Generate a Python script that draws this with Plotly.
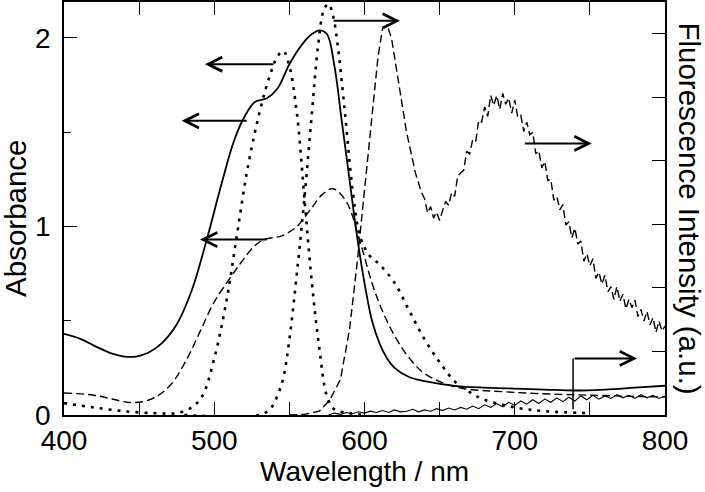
import plotly.graph_objects as go

# absorbance (left axis)
abs_solid_wl = [400, 412, 422, 432, 440, 448, 456, 465, 475, 485, 495, 505, 513, 520, 527, 535, 542, 550,
                558, 565, 570, 575, 580, 585, 590, 595, 600, 605, 610, 615, 620, 630, 640, 660,
                680, 700, 720, 740, 760, 780, 800]
abs_solid = [0.43, 0.40, 0.36, 0.325, 0.31, 0.31, 0.33, 0.38, 0.48, 0.66, 0.93, 1.23, 1.45, 1.58, 1.66, 1.68, 1.73, 1.86,
             1.96, 2.02, 2.04, 2.02, 1.85, 1.55, 1.25, 0.95, 0.70, 0.50, 0.38, 0.30, 0.25, 0.20, 0.18, 0.155,
             0.145, 0.14, 0.135, 0.13, 0.135, 0.145, 0.155]

abs_dot_wl = [400, 420, 440, 460, 475, 485, 492, 500, 508, 515, 522, 530, 537, 542, 546, 550,
              555, 560, 565, 570, 575, 580, 590, 600]
abs_dot = [0.063, 0.04, 0.02, 0.01, 0.01, 0.04, 0.10, 0.30, 0.60, 0.95, 1.30, 1.60, 1.80, 1.90, 1.93, 1.85,
           1.60, 1.15, 0.70, 0.35, 0.10, 0.03, 0.01, 0.0]

abs_dash_wl = [400, 420, 432, 442, 452, 462, 472, 482, 491, 500, 510, 518, 526, 533, 545, 555, 565, 572, 579,
               588, 597, 605, 612, 620, 630, 640, 660, 700, 750, 800]
abs_dash = [0.117, 0.105, 0.085, 0.068, 0.07, 0.10, 0.17, 0.30, 0.45, 0.60, 0.72, 0.81, 0.89, 0.93, 0.95, 1.00,
            1.10, 1.17, 1.20, 1.13, 0.92, 0.70, 0.55, 0.42, 0.30, 0.22, 0.15, 0.12, 0.105, 0.095]

# fluorescence (right axis, a.u.)
fl_dot_wl = [480, 530, 537, 542, 546, 550, 555, 560, 565, 569, 573, 576, 579, 582, 587, 592,
             597, 603, 610, 620, 630, 640, 650, 660, 670, 680, 700, 720, 750]
fl_dot = [0, 0, 0.09, 0.30, 0.59, 1.19, 2.23, 3.41, 4.75, 5.79, 6.38, 6.47, 6.29, 5.85, 4.75, 3.56,
          2.82, 2.52, 2.37, 2.08, 1.63, 1.19, 0.83, 0.53, 0.36, 0.24, 0.12, 0.06, 0.03]

fl_dash_wl = [550, 560, 570, 577, 584, 590, 595, 600, 605, 609, 612, 615, 618, 622, 628, 634, 638] + \
    list(range(640, 801, 2))
fl_dash = [0, 0.01, 0.06, 0.24, 0.56, 1.34, 2.37, 3.56, 4.75, 5.64, 6.08, 6.14, 5.93, 5.34, 4.45, 3.80, 3.50,
           3.40, 3.18, 3.28, 3.10, 3.19, 3.06, 3.22, 3.36, 3.30, 3.50, 3.44, 3.76, 3.81, 3.85, 4.15, 4.11,
           4.33, 4.30, 4.64, 4.61, 4.85, 4.70, 5.03, 4.87, 5.03, 4.81, 5.06, 4.89, 4.99, 4.75, 4.96, 4.69,
           4.72, 4.46, 4.61, 4.41, 4.45, 4.11, 4.16, 3.89, 3.99, 3.69, 3.71, 3.38, 3.44, 3.23, 3.31, 2.99,
           3.04, 2.79, 2.94, 2.69, 2.74, 2.42, 2.54, 2.35, 2.46, 2.15, 2.25, 2.06, 2.20, 1.94, 2.02, 1.82,
           2.02, 1.79, 1.90, 1.67, 1.82, 1.69, 1.81, 1.55, 1.66, 1.48, 1.63, 1.42, 1.53, 1.30, 1.48, 1.32, 1.40]

fl_solid_wl = list(range(576, 801, 4))
fl_solid = [0.00, 0.03, 0.01, 0.04, 0.02, 0.05, 0.03, 0.06, 0.04, 0.07, 0.04, 0.08, 0.05, 0.06, 0.09, 0.05,
            0.08, 0.06, 0.10, 0.07, 0.11, 0.08, 0.12, 0.09, 0.14, 0.10, 0.16, 0.12, 0.18, 0.13, 0.20, 0.15,
            0.22, 0.17, 0.24, 0.18, 0.25, 0.20, 0.27, 0.21, 0.28, 0.22, 0.30, 0.24, 0.31, 0.25, 0.30, 0.26,
            0.32, 0.27, 0.31, 0.26, 0.32, 0.27, 0.31, 0.26, 0.30]

# arrows: (tail wl, head wl, level on left axis)
arrows = [
    (540.4, 493.8, 1.86),
    (522.6, 478.3, 1.56),
    (535.8, 490.5, 0.93),
    (578.4, 623.6, 2.09),
    (705.7, 751.2, 1.44),
    (738.8, 781.4, 0.30),
]

BLACK = "black"
FONT = "Liberation Sans, Arial, sans-serif"

fig = go.Figure()
fig.add_trace(go.Scatter(x=abs_solid_wl, y=abs_solid, mode="lines",
                         line=dict(color=BLACK, width=1.8, shape="spline")))
fig.add_trace(go.Scatter(x=abs_dot_wl, y=abs_dot, mode="lines",
                         line=dict(color=BLACK, width=2.6, dash="3px,6px", shape="spline")))
fig.add_trace(go.Scatter(x=abs_dash_wl, y=abs_dash, mode="lines",
                         line=dict(color=BLACK, width=1.4, dash="8px,4px", shape="spline")))
fig.add_trace(go.Scatter(x=fl_dot_wl, y=fl_dot, mode="lines", yaxis="y2",
                         line=dict(color=BLACK, width=2.6, dash="3px,6px", shape="spline")))
fig.add_trace(go.Scatter(x=fl_dash_wl, y=fl_dash, mode="lines", yaxis="y2",
                         line=dict(color=BLACK, width=1.4, dash="8px,4px")))
fig.add_trace(go.Scatter(x=fl_solid_wl, y=fl_solid, mode="lines", yaxis="y2",
                         line=dict(color=BLACK, width=1.1)))

for tail, head, lev in arrows:
    fig.add_annotation(x=head, y=lev, ax=tail, ay=lev, xref="x", yref="y", axref="x", ayref="y",
                       text="", showarrow=True, arrowhead=5, arrowsize=1.4, arrowwidth=2,
                       arrowcolor=BLACK)
# bracket stem for the bottom-right arrow
fig.add_shape(type="line", x0=arrows[-1][0], x1=arrows[-1][0], y0=0.03, y1=arrows[-1][2],
              xref="x", yref="y", line=dict(color=BLACK, width=1.5))

fig.add_annotation(text="Absorbance", xref="paper", yref="paper", x=-0.08, y=0.477, showarrow=False,
                   textangle=-90, font=dict(size=29.5), xanchor="center", yanchor="middle")
fig.add_annotation(text="Wavelength / nm", xref="paper", yref="paper", x=0.5, y=-0.138, showarrow=False,
                   font=dict(size=28), xanchor="center", yanchor="middle")
fig.add_annotation(text="Fluorescence Intensity (a.u.)", xref="paper", yref="paper", x=1.04, y=0.5,
                   showarrow=False, textangle=90, font=dict(size=29.5), xanchor="center", yanchor="middle")

axis_common = dict(showline=True, linecolor=BLACK, linewidth=1.5, ticks="inside", tickcolor=BLACK,
                   tickwidth=1.3, ticklen=13, showgrid=False, zeroline=False, automargin=False,
                   tickfont=dict(size=28, color=BLACK))
fig.update_layout(
    width=705, height=492,
    margin=dict(l=64, r=40, t=2, b=77),
    paper_bgcolor="white", plot_bgcolor="white",
    showlegend=False,
    font=dict(family=FONT, color=BLACK),
    xaxis=dict(range=[400, 800], dtick=100, mirror="allticks", ticklabelstandoff=0,
               minor=dict(dtick=50, ticks="inside", ticklen=7, tickcolor=BLACK, tickwidth=1.3),
               **axis_common),
    yaxis=dict(range=[0, 2.19], tickvals=[0, 1, 2], ticklabelstandoff=6,
               minor=dict(dtick=0.5, ticks="inside", ticklen=7, tickcolor=BLACK, tickwidth=1.3),
               **axis_common),
    yaxis2=dict(range=[0, 6.5], dtick=1, overlaying="y", side="right", showticklabels=False,
                **axis_common),
)
fig.write_html("out.html", config={"displayModeBar": False},
               post_script="document.body.style.margin='0px';")
